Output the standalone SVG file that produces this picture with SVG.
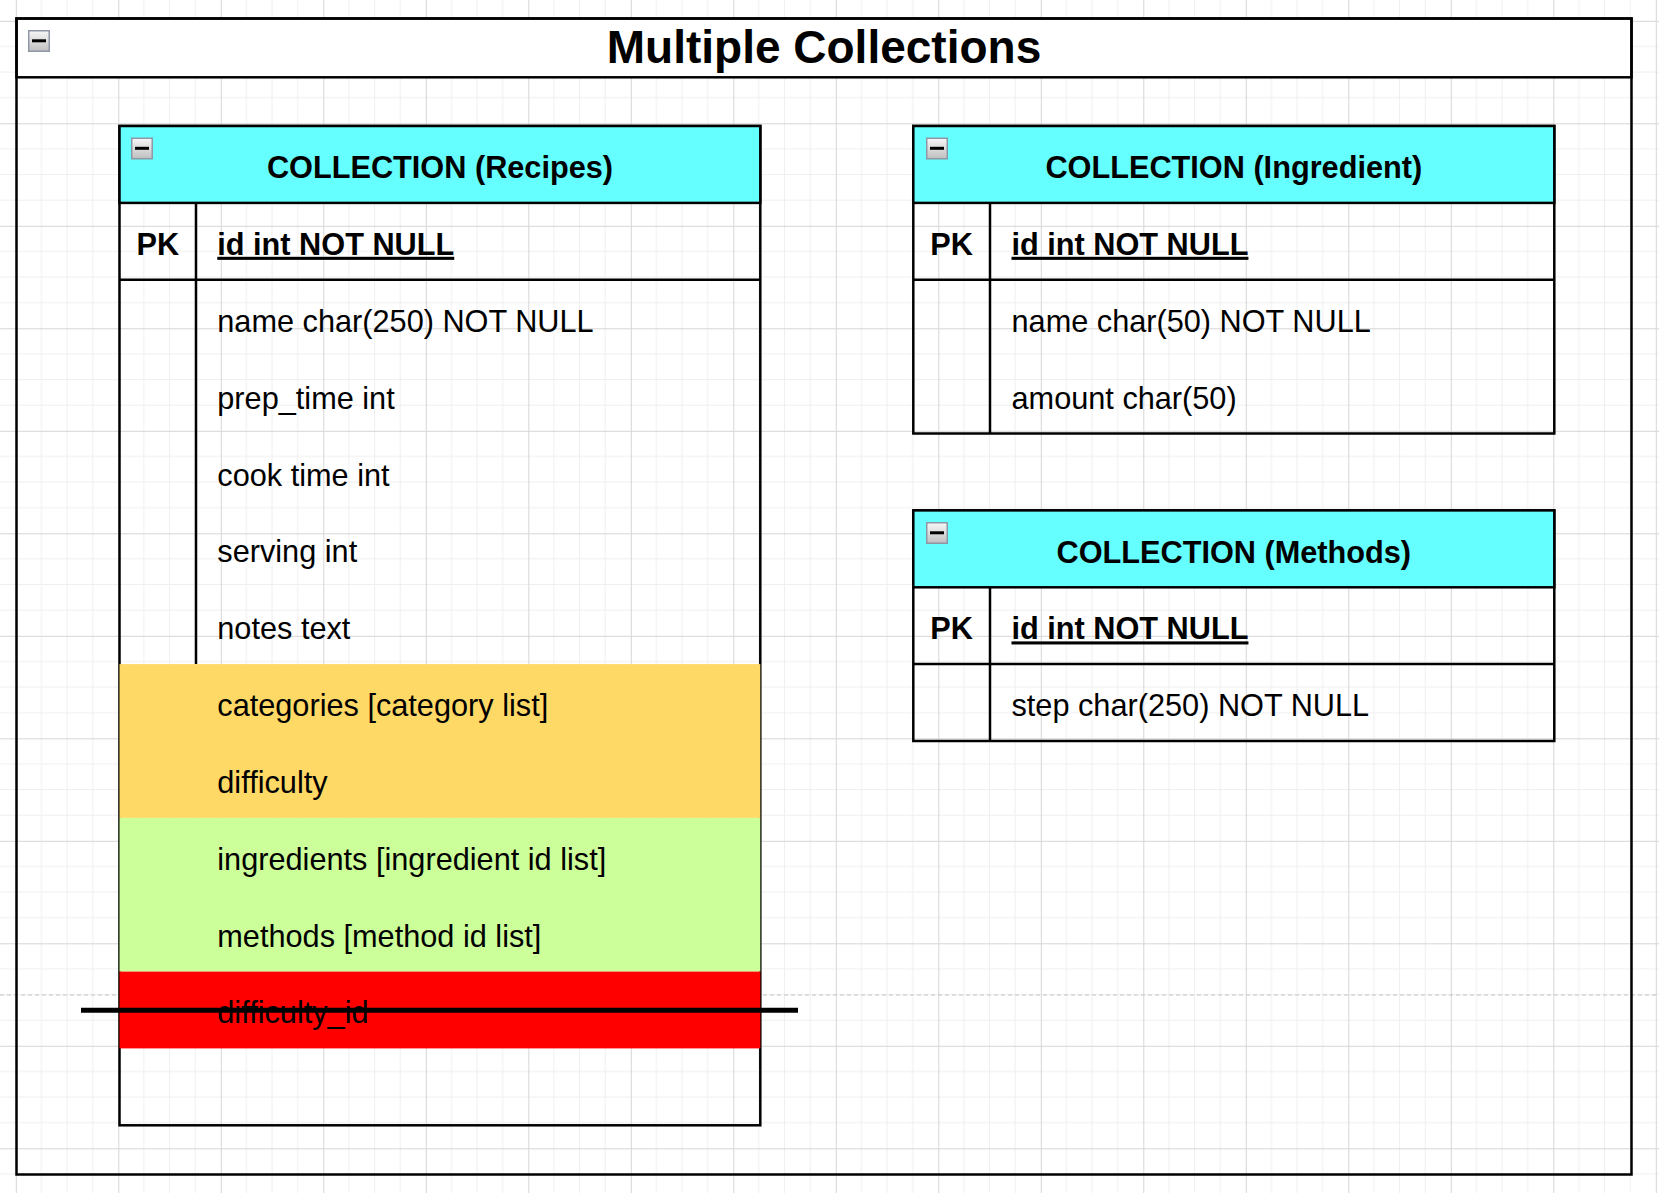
<svg xmlns="http://www.w3.org/2000/svg" width="1659" height="1193" viewBox="0 0 1659 1193">
<style>
  .t { font-family: "Liberation Sans", Arial, sans-serif; font-size: 30.7px; fill: #000; }
  .b { font-weight: bold; }
  .c { text-anchor: middle; }
  .u { text-decoration: underline; }
  .title { font-family: "Liberation Sans", Arial, sans-serif; font-size: 46px; font-weight: bold; text-anchor: middle; fill: #000; }
  .box { fill: none; stroke: #000; stroke-width: 2.5; }
  .ln { stroke: #000; stroke-width: 2.5; fill: none; }
  .hdr { fill: #66FFFF; stroke: #000; stroke-width: 2.5; }
</style>
<defs>
  <pattern id="grid" patternUnits="userSpaceOnUse" x="15.8" y="20.8" width="102.5" height="102.5">
    <path d="M25.625 0V102.5M51.25 0V102.5M76.875 0V102.5M0 25.625H102.5M0 51.25H102.5M0 76.875H102.5" stroke="#efefef" stroke-width="1" fill="none"/>
    <path d="M0.5 0V102.5M0 0.5H102.5" stroke="#d6d6d6" stroke-width="1" fill="none"/>
  </pattern>
  <linearGradient id="icg" x1="0" y1="0" x2="0" y2="1">
    <stop offset="0" stop-color="#f7f7f7"/>
    <stop offset="1" stop-color="#bfbfbf"/>
  </linearGradient>
  <g id="icon">
    <rect x="0.75" y="0.75" width="20.5" height="20.5" fill="url(#icg)" stroke="#8f97a6" stroke-width="1.5"/>
    <rect x="4" y="9.3" width="14" height="3" fill="#000"/>
  </g>
</defs>

<rect x="0" y="0" width="1659" height="1193" fill="#fff"/>
<rect x="0" y="0" width="1659" height="1193" fill="url(#grid)"/>
<line x1="0" y1="995" x2="1659" y2="995" stroke="#c4c4c4" stroke-width="1" stroke-dasharray="4 3"/>

<g id="node-outer">
  <rect x="16.5" y="18.5" width="1615" height="58.8" fill="#fff" stroke="#000" stroke-width="2.5"/>
  <rect class="box" x="16.5" y="18.5" width="1615" height="1156"/>
  <use href="#icon" x="28" y="30"/>
  <text class="title" x="824" y="62.8">Multiple Collections</text>
</g>

<g id="node-recipes">
  <rect class="box" x="119.5" y="126" width="640.8" height="999.3"/>
  <rect class="hdr" x="119.5" y="126" width="640.8" height="76.9"/>
  <line class="ln" x1="119.5" y1="279.8" x2="760.3" y2="279.8"/>
  <line class="ln" x1="196" y1="202.9" x2="196" y2="664.1"/>
  <rect x="119.5" y="664.1" width="640.8" height="153.8" fill="#FFD966"/>
  <rect x="119.5" y="817.9" width="640.8" height="153.7" fill="#CCFF99"/>
  <rect x="119.5" y="971.6" width="640.8" height="76.8" fill="#FF0000"/>
  <use href="#icon" x="131" y="137.5"/>
  <text class="t b c" x="440" y="178.3">COLLECTION (Recipes)</text>
  <text class="t b c" x="157.75" y="254.8">PK</text>
  <text class="t b u" x="217.3" y="254.8">id int NOT NULL</text>
  <text class="t" x="217.3" y="331.8">name char(250) NOT NULL</text>
  <text class="t" x="217.3" y="408.6">prep_time int</text>
  <text class="t" x="217.3" y="485.5">cook time int</text>
  <text class="t" x="217.3" y="562.4">serving int</text>
  <text class="t" x="217.3" y="639.3">notes text</text>
  <text class="t" x="217.3" y="716.1">categories [category list]</text>
  <text class="t" x="217.3" y="793">difficulty</text>
  <text class="t" x="217.3" y="869.9">ingredients [ingredient id list]</text>
  <text class="t" x="217.3" y="946.7">methods [method id list]</text>
  <text class="t" x="217.3" y="1023.4">difficulty_id</text>
</g>

<g id="node-ingredient">
  <rect class="box" x="913.3" y="126" width="641" height="307.5"/>
  <rect class="hdr" x="913.3" y="126" width="641" height="76.9"/>
  <line class="ln" x1="913.3" y1="279.8" x2="1554.3" y2="279.8"/>
  <line class="ln" x1="990" y1="202.9" x2="990" y2="433.5"/>
  <use href="#icon" x="926" y="137.5"/>
  <text class="t b c" x="1233.8" y="178.3">COLLECTION (Ingredient)</text>
  <text class="t b c" x="951.6" y="254.8">PK</text>
  <text class="t b u" x="1011.5" y="254.8">id int NOT NULL</text>
  <text class="t" x="1011.5" y="331.8">name char(50) NOT NULL</text>
  <text class="t" x="1011.5" y="408.6">amount char(50)</text>
</g>

<g id="node-methods">
  <rect class="box" x="913.3" y="510.4" width="641" height="230.6"/>
  <rect class="hdr" x="913.3" y="510.4" width="641" height="76.9"/>
  <line class="ln" x1="913.3" y1="664.1" x2="1554.3" y2="664.1"/>
  <line class="ln" x1="990" y1="587.3" x2="990" y2="741"/>
  <use href="#icon" x="926" y="522"/>
  <text class="t b c" x="1233.8" y="562.7">COLLECTION (Methods)</text>
  <text class="t b c" x="951.6" y="639.4">PK</text>
  <text class="t b u" x="1011.5" y="639.4">id int NOT NULL</text>
  <text class="t" x="1011.5" y="716.2">step char(250) NOT NULL</text>
</g>

<g id="connectors">
  <line id="strike-line" x1="81" y1="1010.2" x2="798" y2="1010.2" stroke="#000" stroke-width="5"/>
</g>
</svg>
